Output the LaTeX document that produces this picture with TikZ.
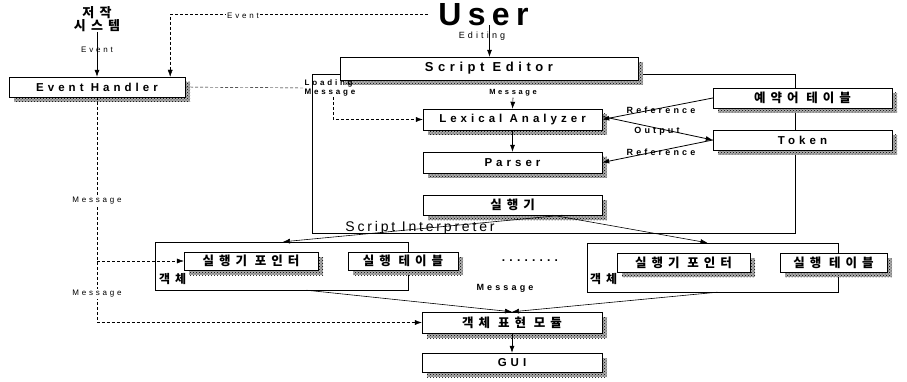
\documentclass[tikz,border=0pt]{standalone}
\usepackage{fontspec}
\setmainfont{Liberation Sans}
\newfontfamily\lsp{Liberation Sans}[LetterSpace=35]
\newfontfamily\lspm{Liberation Sans}[LetterSpace=20]
\newfontfamily\krf{Noto Sans CJK KR}[LetterSpace=40]
\usetikzlibrary{arrows.meta,calc,patterns}
\definecolor{shd}{gray}{0.68}

\tikzset{
  modbox/.style={draw, fill=white, thin, inner sep=0pt,
    font=\lsp\bfseries\fontsize{11.5}{13}\selectfont},
  krbox/.style={modbox, font=\krf\bfseries\fontsize{12.5}{14}\selectfont},
  frame/.style={draw, thin, inner sep=0pt},
  shadowfill/.style={fill=shd, draw=none, postaction={pattern=crosshatch dots}},
  tag/.style={font=\lsp\fontsize{8}{9}\selectfont, inner sep=1pt},
  btag/.style={font=\lsp\bfseries\fontsize{9}{10}\selectfont, inner sep=1pt},
  flow/.style={-{Latex[length=7pt,width=5pt]}, semithick},
  msg/.style={densely dashed, thin},
}

\begin{document}
\begin{tikzpicture}[x=1pt,y=-1pt]
  \useasboundingbox (0,0) rectangle (907,382);
  % containers
  \node[frame, minimum width=483pt, minimum height=159pt] (intp) at (553.5,153.5) {};
  \node[frame, minimum width=253pt, minimum height=48pt] (objA) at (281.5,266) {};
  \node[frame, minimum width=251pt, minimum height=49pt] (objB) at (712.5,267.5) {};
  \node[font=\lspm\fontsize{14}{16}\selectfont, anchor=base] (intplbl) at (420,231) {Script Interpreter};
  \node[font=\krf\bfseries\fontsize{12}{13}\selectfont, anchor=west, inner sep=0pt] (kA) at (159,279) {객체};
  \node[font=\krf\bfseries\fontsize{12}{13}\selectfont, anchor=west, inner sep=0pt] (kB) at (590,279) {객체};

  % shadows
  \foreach \cx/\cy/\w/\h in {97/87/176/20, 489/68.5/298/23, 512.5/119.5/179/21,
      512.5/162.5/179/21, 512.5/205/179/20, 802.5/98/179/20, 802.5/140/179/20,
      251/261/134/18, 403/261/110/18, 683.5/262.5/133/19, 833.5/262.5/107/19,
      512/322.5/180/21, 512/362.5/180/19}
    \fill[shadowfill] (\cx-\w/2+5,\cy-\h/2+5) rectangle (\cx+\w/2+5,\cy+\h/2+5);

  % top
  \node[font=\krf\bfseries\fontsize{13}{13}\selectfont, align=center, inner sep=0pt] (sys) at (97,19) {저작\\시스템};
  \node[font=\lspm\bfseries\fontsize{32}{32}\selectfont, inner sep=0pt] (user) at (483.5,14.5) {User};

  % modules
  \node[modbox, minimum width=176pt, minimum height=20pt] (evh) at (97,87) {Event Handler};
  \node[modbox, minimum width=298pt, minimum height=23pt, font=\lsp\bfseries\fontsize{13}{15}\selectfont] (sed) at (489,68.5) {Script Editor};
  \node[modbox, minimum width=179pt, minimum height=21pt] (lex) at (512.5,119.5) {Lexical Analyzer};
  \node[modbox, minimum width=179pt, minimum height=21pt] (par) at (512.5,162.5) {Parser};
  \node[krbox, minimum width=179pt, minimum height=20pt] (run) at (512.5,205) {실행기};
  \node[krbox, minimum width=179pt, minimum height=20pt] (rsv) at (802.5,98) {예약어 테이블};
  \node[modbox, minimum width=179pt, minimum height=20pt] (tok) at (802.5,140) {Token};
  \node[krbox, minimum width=134pt, minimum height=18pt] (ptrA) at (251,261) {실행기 포인터};
  \node[krbox, minimum width=110pt, minimum height=18pt] (tabA) at (403,261) {실행 테이블};
  \node[krbox, minimum width=133pt, minimum height=19pt] (ptrB) at (683.5,262.5) {실행기 포인터};
  \node[krbox, minimum width=107pt, minimum height=19pt] (tabB) at (833.5,262.5) {실행 테이블};
  \node[krbox, minimum width=180pt, minimum height=21pt] (gen) at (512,322.5) {객체 표현 모듈};
  \node[modbox, minimum width=180pt, minimum height=19pt] (gui) at (512,362.5) {GUI};

  % labels
  \node[tag] (ev1) at (97,50) {Event};
  \node[tag, font=\lsp\fontsize{9}{10}\selectfont] (edit) at (482,36) {Editing};
  \node[btag, align=left, font=\lsp\bfseries\fontsize{8}{9}\selectfont] (load) at (330,88) {Loading\\Message};
  \node[btag, font=\lsp\bfseries\fontsize{7.5}{9}\selectfont] (m1) at (513,93) {Message};
  \node[btag] (ref1) at (661,110) {Reference};
  \node[btag] (out) at (657,131) {Output};
  \node[btag] (ref2) at (661,152) {Reference};
  \node[btag] (m4) at (505,288) {Message};
  \node[font=\lsp\bfseries\fontsize{12}{12}\selectfont] (dots) at (530,261) {........};

  % connectors
  \draw[flow] (sys.south) -- (evh.north);
  \draw[msg, -{Latex[length=7pt,width=5pt]}] ([xshift=-10pt]user.west) -| ([xshift=-15pt]evh.north east);
  \node[tag, fill=white] (ev2) at (243,16) {Event};
  \draw[flow] ([xshift=6pt,yshift=1pt]user.south) -- ([xshift=6pt]user.south |- sed.north);
  \draw[msg] (evh.east) -- (load.west);
  \draw[msg, -{Latex[length=7pt,width=5pt]}] ([xshift=3pt]load.south) |- (lex.west);
  \draw[flow] (m1.south) -- (lex.north);
  \draw[flow] (lex) -- (par);
  \draw[flow, thick] (rsv.west) -- (lex.east);
  \draw[flow, thick] ([yshift=3pt]lex.east) -- (tok.west);
  \draw[flow, thick] (tok.west) -- (par.east);
  \draw[flow] ([xshift=50pt]run.south) -- ([xshift=1.5pt]objA.north);
  \draw[flow] ([xshift=40pt]run.south) -- ([xshift=-5pt]objB.north);
  \draw[flow] ([xshift=25pt]objA.south) -- (gen.north);
  \draw[flow] ([xshift=5pt]objB.south) -- (gen.north);
  \draw[flow] (gen) -- (gui);
  \draw[msg, -{Latex[length=7pt,width=5pt]}] (evh.south) |- (gen.west);
  \draw[msg, -{Latex[length=7pt,width=5pt]}] (evh.south |- ptrA.west) -- (ptrA.west);
  \node[tag, fill=white] (m2) at (97,201) {Message};
  \node[tag, fill=white] (m3) at (97,294) {Message};
\end{tikzpicture}
\end{document}
